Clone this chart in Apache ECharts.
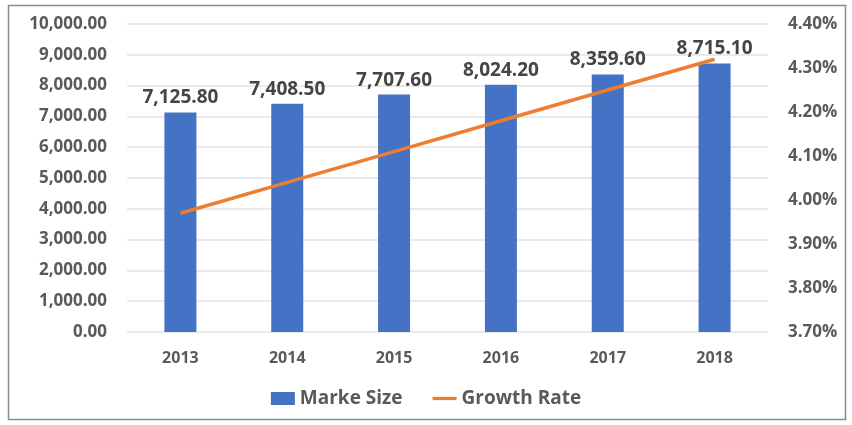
<!DOCTYPE html>
<html><head><meta charset="utf-8">
<script src="https://cdn.jsdelivr.net/npm/echarts@6/dist/echarts.min.js"></script>
<style>html,body{margin:0;padding:0;background:#fff}#c{width:852px;height:425px}</style>
</head><body><div id="c"></div>
<script>
var categories = ['2013','2014','2015','2016','2017','2018'];
var marketSize = [7125.80, 7408.50, 7707.60, 8024.20, 8359.60, 8715.10];
var growthRate = [3.97, 4.04, 4.11, 4.18, 4.25, 4.32];
var seriesNames = ['Marke Size', 'Growth Rate'];

var FONT = '"Open Sans", Lato, sans-serif';
var chart = echarts.init(document.getElementById('c'));
function fmt(v){return v.toLocaleString('en-US',{minimumFractionDigits:2,maximumFractionDigits:2});}
chart.setOption({
  animation:false,
  textStyle:{fontFamily:FONT},
  graphic:[{type:'rect',shape:{x:8.5,y:5.5,width:837,height:414},style:{fill:'none',stroke:'#8c8c8c',lineWidth:1.5}}],
  grid:{left:127,right:84,top:24,bottom:93},
  legend:{bottom:12,left:'center',itemGap:30,itemWidth:24,itemHeight:13,
    textStyle:{fontSize:19,fontWeight:'bold',color:'#5a5a5a',fontFamily:FONT},
    data:[{name:seriesNames[0],icon:'rect'},{name:seriesNames[1],icon:'path://M0,5 L22,5 L22,8 L0,8 Z'}]},
  xAxis:{type:'category',data:categories,
    axisLine:{show:false},axisTick:{show:false},
    axisLabel:{fontSize:16,fontWeight:'bold',color:'#5a5a5a',margin:18,fontFamily:FONT}},
  yAxis:[
    {type:'value',min:0,max:10000,interval:1000,
     axisLabel:{fontSize:17,fontWeight:'bold',color:'#5a5a5a',margin:20,formatter:function(v){return fmt(v);},fontFamily:FONT},
     splitLine:{lineStyle:{color:'#e3e3e3',width:1.5}},axisLine:{show:false},axisTick:{show:false}},
    {type:'value',min:3.7,max:4.4,interval:0.1,
     axisLabel:{fontSize:17,fontWeight:'bold',color:'#5a5a5a',margin:20,formatter:function(v){return v.toFixed(2)+'%';},fontFamily:FONT},
     splitLine:{show:false},axisLine:{show:false},axisTick:{show:false}}
  ],
  series:[
    {name:seriesNames[0],type:'bar',data:marketSize,barWidth:32,
     itemStyle:{color:'#4472C4'},
     label:{show:true,position:'top',distance:5,fontSize:19,fontWeight:'bold',color:'#454545',fontFamily:FONT,
       formatter:function(p){return fmt(p.value);}}},
    {name:seriesNames[1],type:'line',yAxisIndex:1,data:growthRate,
     showSymbol:false,symbol:'none',lineStyle:{color:'#ED7D31',width:3.5},itemStyle:{color:'#ED7D31'}}
  ]
});
</script></body></html>
